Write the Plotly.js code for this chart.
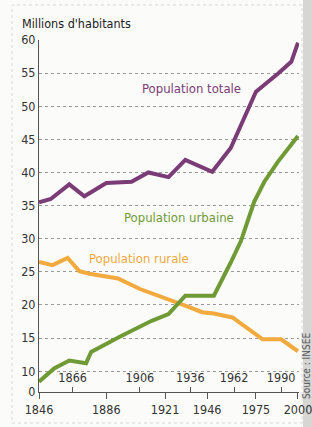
<!DOCTYPE html>
<html>
<head>
<meta charset="utf-8">
<script src="https://cdn.plot.ly/plotly-3.0.1.min.js"></script>
<style>
html,body{margin:0;padding:0;background:#ffffff;}
#chart{width:312px;height:427px;}
</style>
</head>
<body>
<div id="chart"></div>
<script>
// ---- Data (millions d'habitants) ----
const yearsTotale = [1846,1853,1864,1873,1886,1901,1911,1923,1933,1949,1960,1975,1988,1996,2000];
const popTotale   = [35.5,36.0,38.2,36.4,38.4,38.6,40.0,39.3,41.9,40.1,43.7,52.2,54.9,56.7,59.6];

const yearsUrbaine = [1846,1855,1864,1874,1877,1894,1913,1923,1933,1950,1960,1966,1974,1980,1988,2000];
const popUrbaine   = [8.4,10.4,11.6,11.2,12.9,15.2,17.6,18.6,21.4,21.4,26.4,29.6,35.6,38.6,41.6,45.5];

const yearsRurale = [1846,1854,1863,1870,1876,1893,1906,1923,1933,1943,1950,1961,1979,1990,2000];
const popRurale   = [26.5,26.0,27.1,25.1,24.7,24.0,22.4,20.9,19.9,18.9,18.7,18.1,14.8,14.8,13.0];

const xTicksBottom = [1846,1886,1921,1946,1975,2000];
const xTicksTop    = [1866,1906,1936,1962,1990];
const yTickVals  = [6.85,10,15,20,25,30,35,40,45,50,55,60];
const yTickText  = ["0","10","15","20","25","30","35","40","45","50","55","60"];

const FONT = "'DejaVu Sans Condensed', 'Liberation Sans Narrow', sans-serif";
const cPurple = "#7b3b76", cGreen = "#6f9a35", cOrange = "#f2a93d";

const traces = [
  {x: yearsTotale, y: popTotale, mode:'lines', line:{color:cPurple, width:4}, hoverinfo:'skip'},
  {x: yearsRurale, y: popRurale, mode:'lines', line:{color:cOrange, width:4}, hoverinfo:'skip'},
  {x: yearsUrbaine, y: popUrbaine, mode:'lines', line:{color:cGreen, width:4}, hoverinfo:'skip'},
  {x: [xTicksTop[0]], y:[null], xaxis:'x2', mode:'lines', showlegend:false, hoverinfo:'skip'}
];

const L = 39, R = 13, T = 40, B = 35, W = 312 - L - R, H = 427 - T - B;
const px = v => (v - L) / W;
const py = v => (427 - B - v) / H;

const tickFont = {family:FONT, size:12.5, color:'#333'};

const layout = {
  width: 312, height: 427,
  margin: {l:L, r:R, t:T, b:B, pad:0},
  paper_bgcolor: '#fbfbf9',
  plot_bgcolor: 'rgba(0,0,0,0)',
  showlegend: false,
  font: {family: FONT, size: 12.5, color: '#333'},
  title: {text: "Millions d'habitants", font:{family:FONT, size:12.5, color:'#222'},
          x: 22/312, xref:'container', xanchor:'left', y: 1 - 24/427, yref:'container', yanchor:'middle'},
  xaxis: {
    range: [1846, 2000.6], tickvals: xTicksBottom, ticktext: xTicksBottom.map(String),
    ticks: 'outside', ticklen: 6, tickcolor: '#555', tickwidth: 1,
    showline: true, linecolor: '#555', linewidth: 1, showgrid: false, zeroline: false,
    ticklabeloverflow: 'allow', tickfont: tickFont, fixedrange: true
  },
  xaxis2: {
    overlaying: 'x', anchor: 'free', position: 0, side: 'top',
    range: [1846, 2000.6], tickvals: xTicksTop, ticktext: xTicksTop.map(String),
    ticks: 'outside', ticklen: 5, tickcolor: '#555', tickwidth: 1,
    showline: false, showgrid: false, zeroline: false,
    ticklabeloverflow: 'allow', tickfont: tickFont, fixedrange: true
  },
  yaxis: {
    range: [6.85, 60], tickvals: yTickVals, ticktext: yTickText,
    ticks: '', showline: true, linecolor: '#555', linewidth: 1,
    showgrid: true, gridcolor: '#9a9a9a', griddash: 'dot', gridwidth: 1, zeroline: false,
    ticklabeloverflow: 'allow', tickfont: tickFont, fixedrange: true
  },
  annotations: [
    {text:'Population totale', xref:'paper', yref:'paper', x: px(191), y: py(89), showarrow:false,
     xanchor:'center', yanchor:'middle', font:{family:FONT, size:13, color:cPurple}},
    {text:'Population urbaine', xref:'paper', yref:'paper', x: px(179), y: py(217), showarrow:false,
     xanchor:'center', yanchor:'middle', font:{family:FONT, size:13, color:cGreen}},
    {text:'Population rurale', xref:'paper', yref:'paper', x: px(138.5), y: py(258), showarrow:false,
     xanchor:'center', yanchor:'middle', font:{family:FONT, size:13, color:cOrange}},
    {text:'Source : INSEE', xref:'paper', yref:'paper', x: px(306), y: py(366), showarrow:false,
     xanchor:'center', yanchor:'middle', textangle:-90, font:{family:FONT, size:10, color:'#555'}}
  ],
  shapes: [
    {type:'rect', xref:'paper', yref:'paper', x0: px(303), x1: px(313), y0: py(430), y1: py(-3),
     fillcolor:'#d6d6d4', line:{width:0}, layer:'below'},
    {type:'rect', xref:'paper', yref:'paper', x0: px(12), x1: px(302), y0: py(423), y1: py(5),
     fillcolor:'rgba(0,0,0,0)', line:{color:'#d8d8d8', width:1, dash:'dot'}, layer:'below'}
  ]
};

Plotly.newPlot('chart', traces, layout, {displayModeBar:false, staticPlot:true});
</script>
</body>
</html>
